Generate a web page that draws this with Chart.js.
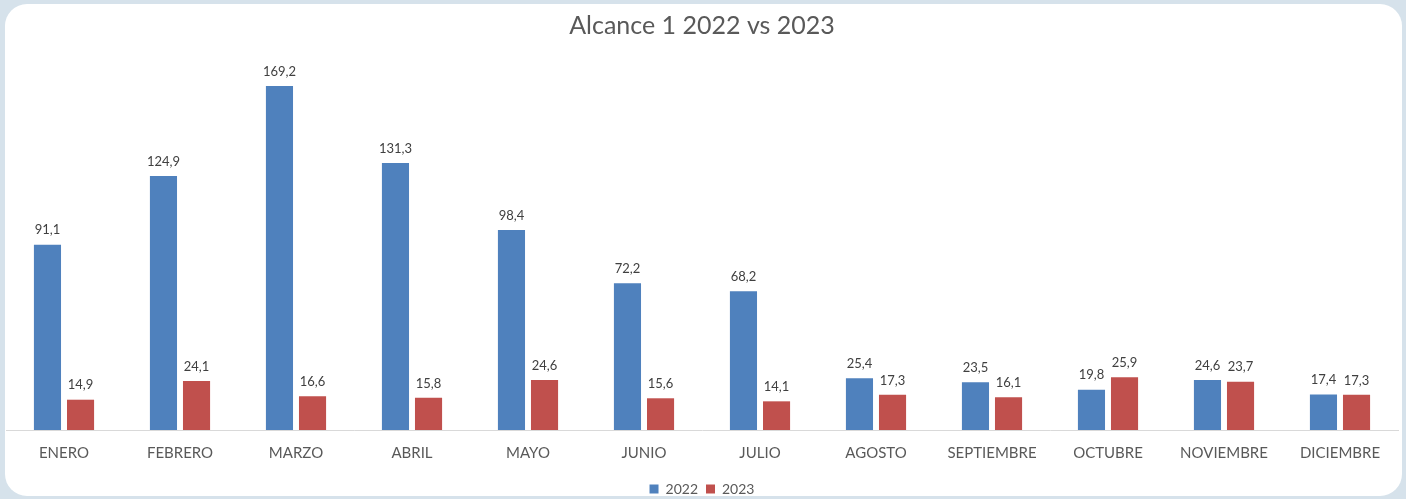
<!DOCTYPE html>
<html>
<head>
<meta charset="utf-8">
<script src="https://cdn.jsdelivr.net/npm/chart.js@4/dist/chart.umd.min.js"></script>
<style>
  html, body { margin: 0; padding: 0; }
  body { width: 1406px; height: 499px; background: #d6e2eb; position: relative; overflow: hidden; }
  .card { position: absolute; left: 5px; top: 4px; width: 1397px; height: 492px; background: #fff; border-radius: 22px; }
  /* canvas runs a little past the bottom so the legend sits low like the original */
  .wrap { position: absolute; left: 0; top: 0; width: 1406px; height: 506px; }
</style>
</head>
<body>
<div class="card"></div>
<div class="wrap"><canvas id="chart"></canvas></div>
<script>
// Monthly values
const months = ['ENERO', 'FEBRERO', 'MARZO', 'ABRIL', 'MAYO', 'JUNIO', 'JULIO', 'AGOSTO', 'SEPTIEMBRE', 'OCTUBRE', 'NOVIEMBRE', 'DICIEMBRE'];
const values2022 = [91.1, 124.9, 169.2, 131.3, 98.4, 72.2, 68.2, 25.4, 23.5, 19.8, 24.6, 17.4];
const values2023 = [14.9, 24.1, 16.6, 15.8, 24.6, 15.6, 14.1, 17.3, 16.1, 25.9, 23.7, 17.3];

const fontFamily = 'Lato, "Noto Sans", sans-serif';

// draws the value above every bar, with a decimal comma
const barLabels = {
    id: 'barLabels',
    afterDatasetsDraw(chart) {
        const ctx = chart.ctx;
        ctx.save();
        ctx.font = '13px ' + fontFamily;
        ctx.fillStyle = '#404040';
        ctx.textAlign = 'center';
        ctx.textBaseline = 'bottom';
        chart.data.datasets.forEach((ds, i) => {
            const meta = chart.getDatasetMeta(i);
            meta.data.forEach((bar, j) => {
                const txt = ds.data[j].toFixed(1).replace('.', ',');
                ctx.fillText(txt, bar.x, bar.y - 8);
            });
        });
        ctx.restore();
    }
};

new Chart(document.getElementById('chart'), {
    type: 'bar',
    data: {
        labels: months,
        datasets: [
            { label: '2022', data: values2022, backgroundColor: '#4f81bd' },
            { label: '2023', data: values2023, backgroundColor: '#c0504d' }
        ]
    },
    options: {
        responsive: true,
        maintainAspectRatio: false,
        animation: false,
        categoryPercentage: 0.57,
        barPercentage: 0.82,
        layout: { padding: { left: 6, right: 8, top: 10, bottom: 0 } },
        plugins: {
            title: {
                display: true,
                text: 'Alcance 1 2022 vs 2023',
                color: '#595959',
                font: { family: fontFamily, size: 25, weight: 'normal' },
                padding: { top: 1, bottom: 23 }
            },
            legend: {
                position: 'bottom',
                labels: {
                    color: '#595959',
                    font: { family: fontFamily, size: 14 },
                    boxWidth: 9,
                    boxHeight: 9,
                    padding: 8
                }
            },
            tooltip: { enabled: false }
        },
        scales: {
            x: {
                grid: { display: false },
                border: { color: '#d9d9d9', width: 1 },
                ticks: {
                    color: '#595959',
                    font: { family: fontFamily, size: 15 },
                    padding: 6,
                    maxRotation: 0,
                    autoSkip: false
                },
                // extra room between the month names and the legend
                afterFit: function(scale) {
                    scale.height += 6;
                }
            },
            y: {
                display: false,
                min: 0,
                max: 180
            }
        }
    },
    plugins: [barLabels]
});
</script>
</body>
</html>
